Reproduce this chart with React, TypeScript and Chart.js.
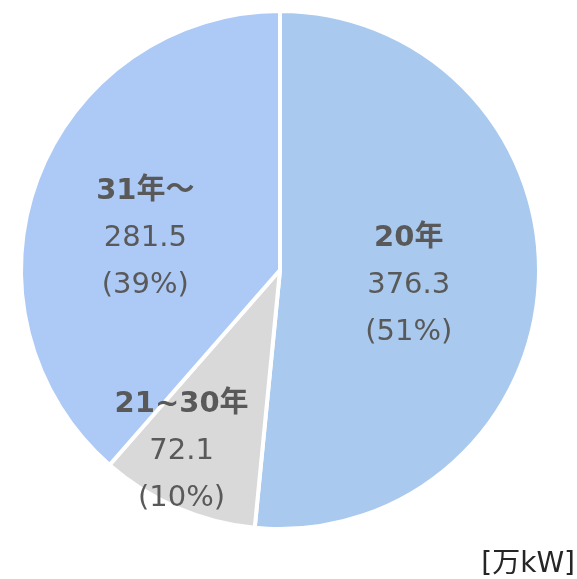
import React, { useEffect, useRef } from "react";
import { Chart, registerables } from "chart.js";
Chart.register(...registerables);

const categories = ["20年", "21~30年", "31年～"];
const values = [376.3, 72.1, 281.5];
const percents = ["(51%)", "(10%)", "(39%)"];
const valueLabels = ["376.3", "72.1", "281.5"];
const sliceColors = ["#A9CAEE", "#D9D9D9", "#ADCAF7"];
const unitLabel = "[万kW]";

// label placement relative to pie center, in units of radius
const labelOffsets = [
  { dx: 0.497, dy: 0.058 },
  { dx: -0.38, dy: 0.70 },
  { dx: -0.52, dy: -0.12 },
];

const FONT = "'DejaVu Sans', 'Noto Sans CJK JP', sans-serif";

const labelPlugin = {
  id: "sliceLabels",
  afterDatasetsDraw(chart: any) {
    const ctx = chart.ctx;
    const meta = chart.getDatasetMeta(0);
    ctx.save();
    ctx.textAlign = "center";
    ctx.textBaseline = "middle";
    ctx.fillStyle = "#595959";
    meta.data.forEach((arc: any, i: number) => {
      const r = arc.outerRadius;
      const x = arc.x + labelOffsets[i].dx * r;
      const y = arc.y + labelOffsets[i].dy * r;
      const gap = 47;
      ctx.font = `bold 29px ${FONT}`;
      ctx.fillText(categories[i], x, y - gap);
      ctx.font = `29px ${FONT}`;
      ctx.fillText(valueLabels[i], x, y);
      ctx.fillText(percents[i], x, y + gap);
    });
    ctx.font = `28px ${FONT}`;
    ctx.fillStyle = "#262626";
    ctx.textAlign = "right";
    ctx.fillText(unitLabel, 575, 565);
    ctx.restore();
  },
};

export default function App() {
  const ref = useRef<HTMLCanvasElement>(null);
  useEffect(() => {
    if (!ref.current) return;
    const chart = new Chart(ref.current, {
      type: "pie",
      data: {
        labels: categories,
        datasets: [
          {
            data: values,
            backgroundColor: sliceColors,
            borderColor: "#FFFFFF",
            borderWidth: 4,
          },
        ],
      },
      options: {
        animation: false,
        responsive: false,
        layout: { padding: { top: 9, bottom: 48, left: 19, right: 36 } },
        plugins: {
          legend: { display: false },
          tooltip: { enabled: false },
        },
      },
      plugins: [labelPlugin],
    });
    return () => chart.destroy();
  }, []);
  return (
    <div style={{ position: "fixed", left: 0, top: 0, width: 577, height: 579, background: "#fff" }}>
      <canvas ref={ref} width={577} height={579} style={{ width: 577, height: 579 }} />
    </div>
  );
}
